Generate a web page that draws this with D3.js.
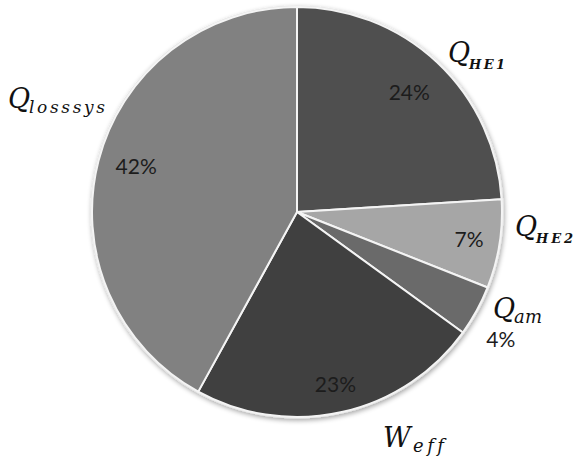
<!DOCTYPE html>
<html>
<head>
<meta charset="utf-8">
<script src="https://cdn.jsdelivr.net/npm/d3@7"></script>
<style>
  html, body { margin: 0; padding: 0; background: #fff; }
  svg { display: block; }
  text { font-variant-ligatures: none; font-feature-settings: "liga" 0; }
</style>
</head>
<body>
<script>
// Energy balance shares (percent), clockwise from 12 o'clock
const names    = ["HE1", "HE2", "am", "eff", "losssys"];
const symbols  = ["Q", "Q", "Q", "W", "Q"];
const shares   = [24, 7, 4, 23, 42];
const shades   = ["#4f4f4f", "#a6a6a6", "#6a6a6a", "#3f3f3f", "#818181"];

// symbol label anchors (left end of the symbol, on its baseline), relative to the pie centre
const nameAnchor = [[151, -150], [218, 24], [196, 106], [86, 235], [-289, -104]];
// percent labels: radius factor along the slice mid-angle, plus a nudge
const pctRadius = [0.80, 0.85, 1.19, 0.86, 0.81];
const pctShift  = [[0, 0], [0, 0], [-10, 10], [0, 0], [0, -4]];

const W = 577, H = 462;
const cx = 297, cy = 212, R = 205;

const svg = d3.select("body").append("svg")
  .attr("width", W).attr("height", H);

const defs = svg.append("defs");
const f = defs.append("filter").attr("id", "shadow")
  .attr("x", "-10%").attr("y", "-10%").attr("width", "120%").attr("height", "120%");
f.append("feGaussianBlur").attr("in", "SourceAlpha").attr("stdDeviation", 2.5).attr("result", "b");
f.append("feOffset").attr("in", "b").attr("dx", 1).attr("dy", 2).attr("result", "o");
f.append("feComponentTransfer").attr("in", "o").attr("result", "s")
  .append("feFuncA").attr("type", "linear").attr("slope", 0.35);
const m = f.append("feMerge");
m.append("feMergeNode").attr("in", "s");
m.append("feMergeNode").attr("in", "SourceGraphic");

const g = svg.append("g").attr("transform", `translate(${cx},${cy})`);

const pie = d3.pie().sort(null).value(d => d)(shares);
const arc = d3.arc().innerRadius(0).outerRadius(R);

const slices = g.append("g").attr("filter", "url(#shadow)");
// light rim around the disc
slices.append("circle").attr("r", R + 1.5).attr("fill", "#e4e4e4");
slices.selectAll("path")
  .data(pie)
  .join("path")
  .attr("d", arc)
  .attr("fill", (d, i) => shades[i])
  .attr("stroke", "#f4f4f4")
  .attr("stroke-width", 2)
  .attr("stroke-linejoin", "round");

// percent labels
g.selectAll("text.pct")
  .data(pie)
  .join("text")
  .attr("class", "pct")
  .attr("transform", (d, i) => {
    const a = d3.arc().innerRadius(R * pctRadius[i]).outerRadius(R * pctRadius[i]);
    const [x, y] = a.centroid(d);
    return `translate(${x + pctShift[i][0]},${y + pctShift[i][1]})`;
  })
  .attr("text-anchor", "middle")
  .attr("dy", "0.36em")
  .attr("font-family", "Lato, 'Open Sans', sans-serif")
  .attr("font-size", 21)
  .attr("fill", "#1c1c1c")
  .text(d => d.data + "%");

// symbol labels with subscripts
const subWidth = { HE1: 36, HE2: 37, am: 28, eff: 31, losssys: 76 };
const subSize  = { HE1: 13, HE2: 13, am: 18, eff: 18, losssys: 17 };
const symWidth = { Q: 21, W: 30 };

const sym = g.selectAll("g.name")
  .data(pie)
  .join("g")
  .attr("class", "name")
  .attr("transform", (d, i) => `translate(${nameAnchor[i][0]},${nameAnchor[i][1]})`);

sym.each(function (d, i) {
  const el = d3.select(this);
  const s = symbols[i], sub = names[i];
  const caps = sub === "HE1" || sub === "HE2";
  el.append("text")
    .attr("x", 0)
    .attr("y", 0)
    .attr("font-family", "'DejaVu Serif', serif")
    .attr("font-style", "italic")
    .attr("font-size", 27)
    .attr("fill", "#111")
    .text(s);
  el.append("text")
    .attr("x", symWidth[s])
    .attr("y", s === "W" ? 5 : (caps ? 7 : 5))
    .attr("font-family", "'DejaVu Serif', serif")
    .attr("font-style", "italic")
    .attr("font-weight", caps ? "bold" : "normal")
    .attr("font-size", subSize[sub])
    .attr("textLength", subWidth[sub])
    .attr("lengthAdjust", "spacing")
    .attr("fill", "#111")
    .text(sub);
});
</script>
</body>
</html>
